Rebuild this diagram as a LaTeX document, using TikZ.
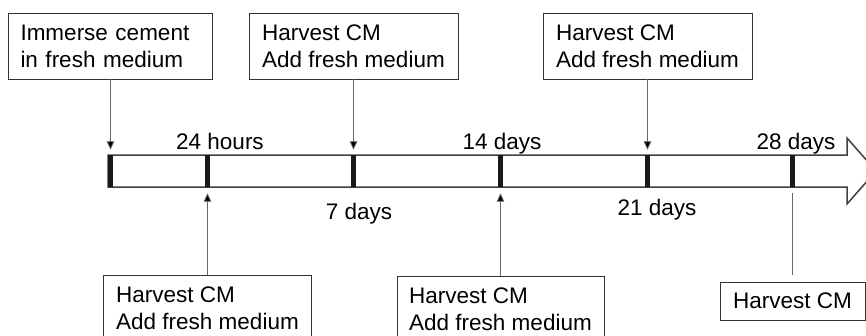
\documentclass[tikz,border=0pt]{standalone}
\usepackage{fontspec}
\setmainfont{Liberation Sans}
\usetikzlibrary{arrows.meta}
\begin{document}
\begin{tikzpicture}[x=1pt,y=-1pt,
  box/.style={draw=black!80, line width=0.9pt, align=left, inner sep=0pt,
    font=\fontsize{22.5}{27}\selectfont, minimum width=#1},
  tick/.style={fill=black!90, inner sep=0pt, minimum width=5.5pt, minimum height=32pt},
  lbl/.style={anchor=base, inner sep=0pt, font=\fontsize{22.5}{27}\selectfont},
  conn/.style={draw=black!60, line width=0.8pt, -{Triangle[width=7.5pt,length=8.5pt,fill=black]}},
  line/.style={draw=black!60, line width=0.8pt},
  axis/.style={draw=black!75, line width=1.5pt, line join=miter, fill=white}
]
\clip (0,0) rectangle (866,335);
\fill[white] (0,0) rectangle (866,335);
% timeline arrow
\draw[axis] (108,155) -- (847,155) -- (847,138) -- (876,171) -- (847,204) -- (847,187) -- (108,187) -- cycle;
% ticks
\node[tick] (t0) at (110.5,171) {};
\node[tick] (t1) at (207.5,171) {};
\node[tick] (t2) at (353.5,171) {};
\node[tick] (t3) at (500.5,171) {};
\node[tick] (t4) at (647.5,171) {};
\node[tick] (t5) at (792.5,171) {};
% boxes
\node[box=204pt, minimum height=66pt, inner xsep=12pt, text width=180pt] (a) at (110.5,46) {Immerse cement\\in fresh medium};
\node[box=209pt, minimum height=66pt] (b) at (353.5,46) {Harvest CM\\Add fresh medium};
\node[box=209pt, minimum height=66pt] (c) at (647.5,46) {Harvest CM\\Add fresh medium};
\node[box=208pt, minimum height=66pt] (d) at (207.5,308) {Harvest CM\\Add fresh medium};
\node[box=207pt, minimum height=66pt] (e) at (500.5,309) {Harvest CM\\Add fresh medium};
\node[box=145pt, minimum height=38pt] (f) at (792.5,301) {Harvest CM};
% labels
\node[lbl] (l1) at (220,149) {24 hours};
\node[lbl] (l2) at (359,219) {7 days};
\node[lbl] (l3) at (502,149) {14 days};
\node[lbl] (l4) at (657,215) {21 days};
\node[lbl] (l5) at (796,149) {28 days};
% connectors
\draw[conn] (a.south) -- ([yshift=5pt]t0.north);
\draw[conn] (b.south) -- ([yshift=5pt]t2.north);
\draw[conn] (c.south) -- ([yshift=5pt]t4.north);
\draw[conn] (d.north) -- ([yshift=-6pt]t1.south);
\draw[conn] (e.north) -- ([yshift=-6pt]t3.south);
\draw[line] ([yshift=7pt]f.north) -- ([yshift=-6pt]t5.south);
\end{tikzpicture}
\end{document}
